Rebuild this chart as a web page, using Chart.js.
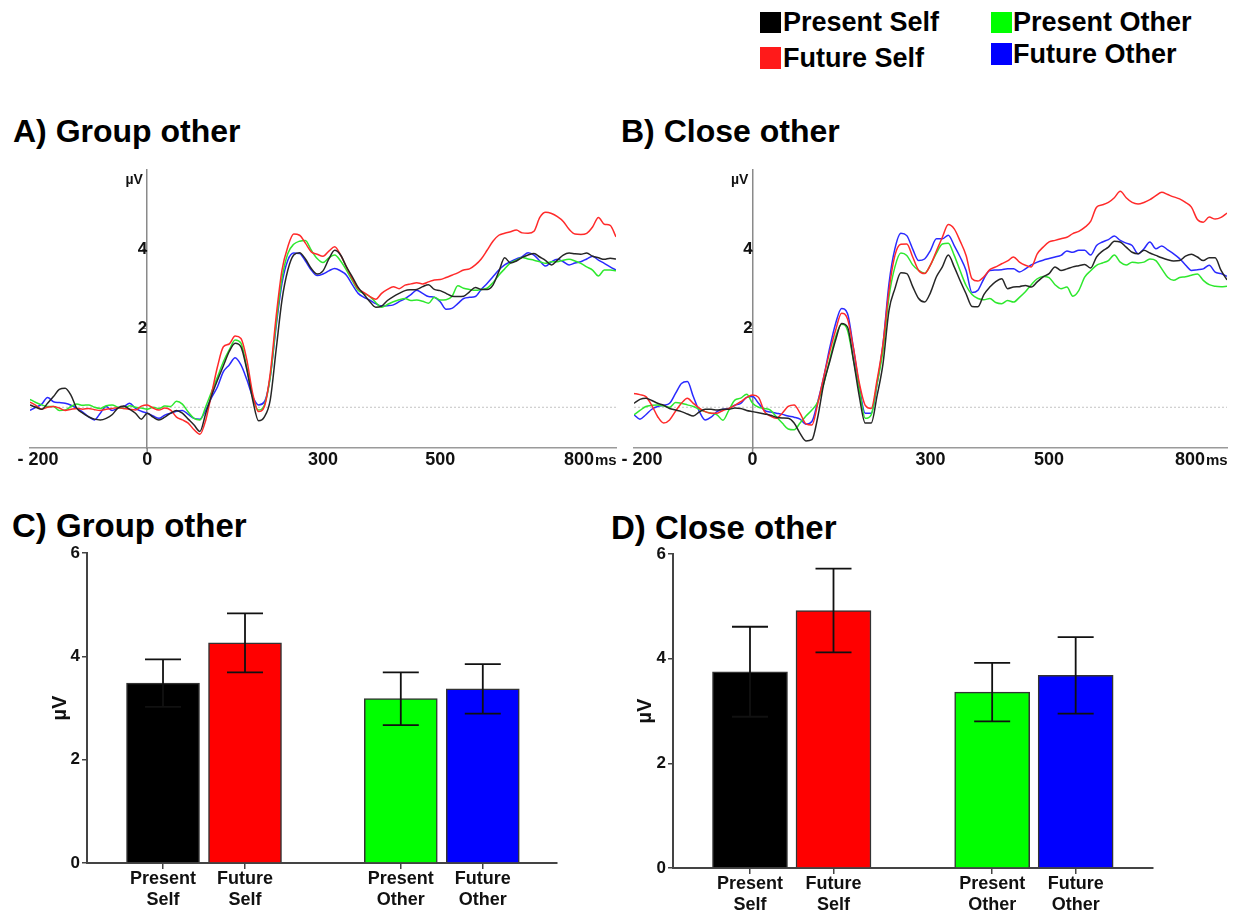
<!DOCTYPE html>
<html>
<head>
<meta charset="utf-8">
<script src="https://cdn.jsdelivr.net/npm/chart.js@4.4.1/dist/chart.umd.min.js"></script>
<style>
  html, body { margin: 0; padding: 0; background: #fff; }
  body { width: 1234px; height: 914px; position: relative; overflow: hidden;
         font-family: "Liberation Sans", Arial, sans-serif; color: #000; }
  .title { position: absolute; font-weight: bold; line-height: 1; white-space: nowrap; }
  .sw { position: absolute; width: 21px; height: 21px; }
  .lg { position: absolute; font-weight: bold; font-size: 27px; line-height: 27px; white-space: nowrap; }
  canvas { position: absolute; }
</style>
</head>
<body>

<div class="sw" style="left:760px;top:12px;background:#000;"></div>
<div class="lg" style="left:783px;top:9px;">Present Self</div>
<div class="sw" style="left:760px;top:47px;height:22px;background:#ff1a1a;"></div>
<div class="lg" style="left:783px;top:45px;">Future Self</div>
<div class="sw" style="left:991px;top:12px;background:#00ff00;"></div>
<div class="lg" style="left:1013px;top:9px;">Present Other</div>
<div class="sw" style="left:991px;top:43px;height:22px;background:#0000ff;"></div>
<div class="lg" style="left:1013px;top:41px;">Future Other</div>

<div class="title" style="left:13px;top:115px;font-size:32px;">A) Group other</div>
<div class="title" style="left:621px;top:115px;font-size:32px;">B) Close other</div>
<div class="title" style="left:12px;top:509px;font-size:33px;">C) Group other</div>
<div class="title" style="left:611px;top:511px;font-size:33px;">D) Close other</div>

<canvas id="erpA" width="640" height="330" style="left:0px;top:150px;"></canvas>
<canvas id="erpB" width="629" height="330" style="left:605px;top:150px;"></canvas>
<canvas id="barC" width="600" height="374" style="left:0px;top:540px;"></canvas>
<canvas id="barD" width="634" height="374" style="left:600px;top:540px;"></canvas>

<script>
// ---------------- DATA ----------------
const timesMs = [
  -200,-190,-180,-170,-160,-150,-140,-130,-120,-110,
  -100,-90,-80,-70,-60,-50,-40,-30,-20,-10,
  0,10,20,30,40,50,60,70,80,90,
  100,110,120,130,140,150,160,170,180,190,
  200,210,220,230,240,250,260,270,280,290,
  300,310,320,330,340,350,360,370,380,390,
  400,410,420,430,440,450,460,470,480,490,
  500,510,520,530,540,550,560,570,580,590,
  600,610,620,630,640,650,660,670,680,690,
  700,710,720,730,740,750,760,770,780,790,
  800
];

// Panel A: Group other (µV)
const groupPresentSelf = [
  0.06,0.0,-0.05,0.1,0.27,0.45,0.48,0.3,-0.03,-0.15,
  -0.24,-0.3,-0.32,-0.28,-0.19,-0.02,0.03,-0.05,-0.15,-0.3,
  -0.15,-0.25,-0.32,-0.25,-0.15,-0.08,-0.15,-0.3,-0.45,-0.61,
  -0.15,0.3,0.69,1.05,1.41,1.62,1.53,0.95,0.19,-0.34,
  -0.24,0.19,1.45,2.71,3.47,3.85,3.91,3.75,3.51,3.37,
  3.45,3.75,3.97,3.85,3.55,3.3,3.03,2.85,2.67,2.53,
  2.56,2.7,2.8,2.88,2.95,2.97,2.98,3.05,3.1,2.98,
  2.95,2.88,2.81,2.8,2.81,2.92,3.03,2.98,2.98,3.09,
  3.43,3.78,3.65,3.7,3.79,3.85,3.89,3.8,3.71,3.6,
  3.72,3.85,3.9,3.88,3.87,3.9,3.82,3.78,3.74,3.77,
  3.75
];
const groupFutureSelf = [
  0.13,0.05,-0.05,0.0,0.02,-0.02,-0.08,-0.05,-0.03,-0.05,
  -0.03,-0.06,-0.08,-0.05,-0.03,-0.01,-0.03,-0.05,-0.07,0.03,
  0.06,-0.02,-0.07,-0.02,-0.07,-0.25,-0.32,-0.4,-0.57,-0.68,
  -0.32,0.35,1.03,1.53,1.6,1.8,1.74,1.2,0.35,-0.11,
  0.02,0.86,2.29,3.47,4.06,4.38,4.35,4.15,3.93,3.87,
  3.82,3.95,4.06,3.85,3.55,3.25,3.0,2.9,2.8,2.73,
  2.88,2.98,3.05,3.0,3.09,3.12,3.15,3.12,3.17,3.22,
  3.23,3.28,3.34,3.4,3.47,3.5,3.6,3.75,3.97,4.2,
  4.35,4.4,4.44,4.48,4.41,4.4,4.45,4.8,4.93,4.9,
  4.82,4.7,4.5,4.38,4.37,4.4,4.56,4.8,4.63,4.6,
  4.31
];
const groupPresentOther = [
  0.2,0.12,0.06,0.02,0.02,-0.08,-0.07,0.02,0.08,0.05,
  0.06,0.0,-0.03,0.04,0.06,0.0,-0.03,0.04,0.0,-0.02,
  -0.05,0.0,-0.03,0.03,0.02,0.15,0.08,-0.12,-0.28,-0.32,
  0.02,0.4,0.77,1.15,1.45,1.7,1.62,1.0,0.27,-0.07,
  0.06,0.77,2.12,3.26,3.89,4.12,4.2,4.22,3.97,3.76,
  3.66,3.78,3.85,3.7,3.47,3.2,2.96,2.88,2.8,2.65,
  2.53,2.6,2.67,2.72,2.75,2.7,2.71,2.68,2.63,2.78,
  2.71,2.72,2.8,3.07,3.01,2.98,2.96,2.98,3.01,3.15,
  3.34,3.5,3.65,3.72,3.79,3.75,3.72,3.68,3.64,3.68,
  3.68,3.72,3.74,3.7,3.64,3.55,3.47,3.32,3.47,3.47,
  3.45
];
const groupFutureOther = [
  -0.08,0.0,0.08,0.25,0.14,0.12,0.1,0.05,-0.03,-0.12,
  -0.24,-0.32,-0.15,0.02,-0.08,-0.02,0.02,0.1,-0.03,-0.1,
  -0.15,-0.22,-0.28,-0.2,-0.15,-0.1,-0.08,-0.18,-0.28,-0.3,
  -0.07,0.25,0.52,0.9,1.07,1.25,1.07,0.7,0.27,0.06,
  0.14,0.77,2.04,3.13,3.72,3.9,3.89,3.7,3.47,3.33,
  3.37,3.45,3.51,3.45,3.34,3.1,2.88,2.78,2.71,2.62,
  2.56,2.57,2.59,2.67,2.75,2.85,2.96,2.88,2.8,2.78,
  2.67,2.48,2.5,2.62,2.75,2.78,2.8,2.98,3.13,3.3,
  3.47,3.6,3.68,3.75,3.81,3.91,3.85,3.7,3.57,3.68,
  3.74,3.68,3.6,3.65,3.68,3.75,3.82,3.72,3.64,3.55,
  3.47
];

// Panel B: Close other (µV)
const closePresentSelf = [
  0.1,0.2,0.23,0.17,0.1,0.05,-0.03,-0.07,-0.11,-0.17,
  -0.22,-0.12,-0.05,-0.05,-0.07,-0.05,-0.05,-0.02,-0.03,-0.08,
  -0.11,-0.14,-0.17,-0.2,-0.25,-0.27,-0.28,-0.4,-0.66,-0.85,
  -0.82,-0.24,0.6,1.15,1.7,2.12,2.03,1.2,0.27,-0.4,
  -0.4,0.3,1.11,2.45,3.0,3.4,3.38,3.05,2.75,2.66,
  2.9,3.3,3.55,3.85,3.55,3.2,2.87,2.55,2.54,2.85,
  3.04,3.18,3.25,3.0,3.04,3.05,3.08,3.04,3.17,3.3,
  3.38,3.55,3.46,3.5,3.55,3.58,3.61,3.52,3.8,3.95,
  4.05,4.2,4.18,4.05,3.92,3.88,3.97,3.9,3.84,3.78,
  3.73,3.7,3.71,3.82,3.87,3.8,3.71,3.78,3.78,3.46,
  3.22
];
const closeFutureSelf = [
  0.35,0.32,0.27,0.05,-0.24,-0.4,-0.32,-0.1,0.1,0.23,
  0.1,-0.02,-0.11,-0.15,-0.15,-0.08,-0.03,0.05,0.14,0.25,
  0.31,0.25,-0.11,-0.22,-0.28,-0.15,0.02,0.06,-0.15,-0.42,
  -0.45,0.1,0.77,1.4,1.95,2.38,2.24,1.5,0.61,0.05,
  -0.03,0.7,1.61,2.96,3.84,4.12,4.13,3.8,3.46,3.38,
  3.6,3.95,4.3,4.62,4.51,4.2,3.84,3.25,3.19,3.3,
  3.48,3.55,3.63,3.7,3.8,3.67,3.59,3.55,3.88,4.05,
  4.18,4.22,4.26,4.3,4.39,4.45,4.55,4.7,5.06,5.12,
  5.18,5.3,5.46,5.3,5.18,5.14,5.18,5.25,5.35,5.44,
  5.38,5.32,5.27,5.18,5.06,4.75,4.68,4.81,4.76,4.8,
  4.91
];
const closePresentOther = [
  -0.19,-0.08,0.02,0.05,0.06,0.03,0.0,0.12,0.1,0.06,
  0.02,-0.05,-0.11,-0.15,-0.19,-0.33,-0.07,0.18,0.23,0.33,
  0.1,0.0,-0.03,-0.07,-0.24,-0.4,-0.55,-0.57,-0.4,-0.22,
  -0.07,0.14,0.6,1.2,1.78,2.1,1.95,1.2,0.44,-0.28,
  -0.19,0.6,1.45,2.79,3.55,3.9,3.84,3.6,3.46,3.39,
  3.6,3.9,4.13,4.15,3.84,3.45,3.08,2.85,2.75,2.72,
  2.75,2.65,2.62,2.7,2.66,2.78,2.92,3.1,3.25,3.31,
  3.28,3.1,3.0,3.04,2.81,2.95,3.29,3.45,3.59,3.65,
  3.71,3.85,3.67,3.6,3.67,3.65,3.67,3.75,3.71,3.5,
  3.29,3.21,3.28,3.3,3.34,3.37,3.21,3.1,3.06,3.05,
  3.06
];
const closeFutureOther = [
  -0.19,-0.3,-0.19,-0.05,0.02,0.05,0.1,0.35,0.6,0.65,
  0.27,-0.1,-0.32,-0.25,-0.11,-0.05,-0.03,0.05,0.1,0.25,
  0.27,0.1,-0.08,-0.12,-0.15,-0.18,-0.22,-0.25,-0.3,-0.43,
  -0.36,0.15,0.77,1.5,2.12,2.5,2.37,1.5,0.52,-0.15,
  -0.15,0.6,1.61,3.13,4.01,4.4,4.34,4.0,3.71,3.75,
  3.97,4.26,4.26,4.35,4.09,3.8,3.46,2.9,2.96,3.25,
  3.46,3.47,3.48,3.5,3.5,3.42,3.5,3.6,3.67,3.72,
  3.76,3.8,3.84,3.95,3.92,3.97,3.97,3.85,4.09,4.18,
  4.24,4.33,4.22,4.15,4.09,3.88,4.01,4.18,4.01,4.08,
  3.98,3.88,3.76,3.6,3.46,3.48,3.5,3.59,3.42,3.38,
  3.31
];

const erpXTickValues = [-200, 0, 300, 500, 800];
const erpXTickLabels = ['- 200', '0', '300', '500', '800'];
const erpYTickValues = [2, 4];

// Bar panels
const conditionNames = ['Present Self', 'Future Self', 'Present Other', 'Future Other'];
const barTickLabels = [['Present', 'Self'], ['Future', 'Self'], ['Present', 'Other'], ['Future', 'Other']];
const groupMeans = [3.48, 4.26, 3.18, 3.37];
const groupErrors = [0.46, 0.57, 0.51, 0.48];
const closeMeans = [3.75, 4.92, 3.36, 3.68];
const closeErrors = [0.86, 0.80, 0.56, 0.73];
const barYTickValues = [0, 2, 4, 6];

// ---------------- STYLE / LAYOUT ----------------
const FONT = '"Liberation Sans", Arial, sans-serif';
Chart.defaults.font.family = FONT;
Chart.defaults.color = '#111';
const lineColors = ['#262626', '#ff2a2a', '#2ee82e', '#2a2aff'];
const barColors = ['#000000', '#ff0000', '#00ff00', '#0000ff'];
const barSlots = [1, 2, 3.9, 4.9];

const erpDecor = {
  id: 'erpDecor',
  beforeDatasetsDraw(chart) {
    const {ctx, chartArea: a, scales: {y}} = chart;
    const y0 = y.getPixelForValue(0);
    ctx.save();
    ctx.strokeStyle = '#c4c4c4';
    ctx.lineWidth = 1;
    ctx.setLineDash([2, 2]);
    ctx.beginPath();
    ctx.moveTo(a.left, y0);
    ctx.lineTo(a.right, y0);
    ctx.stroke();
    ctx.restore();
  },
  afterDraw(chart) {
    const {ctx, chartArea: a, scales: {x}} = chart;
    ctx.save();
    ctx.fillStyle = '#111';
    ctx.textBaseline = 'alphabetic';
    const base = a.bottom + 17;
    const n = erpXTickValues.length;
    erpXTickValues.forEach((v, i) => {
      const px = x.getPixelForValue(v);
      ctx.font = 'bold 18px ' + FONT;
      if (i === n - 1) {
        ctx.textAlign = 'right';
        ctx.fillText(erpXTickLabels[i], px - 22, base);
        ctx.font = 'bold 15px ' + FONT;
        ctx.textAlign = 'left';
        ctx.fillText('ms', px - 21, base);
      } else if (i === 0) {
        ctx.textAlign = 'center';
        ctx.fillText(erpXTickLabels[i], px + 8, base);
      } else {
        ctx.textAlign = 'center';
        ctx.fillText(erpXTickLabels[i], px, base);
      }
    });
    const x0 = x.getPixelForValue(0);
    ctx.strokeStyle = '#8a8a8a';
    ctx.lineWidth = 1.5;
    ctx.beginPath();
    ctx.moveTo(x0, a.bottom);
    ctx.lineTo(x0, a.bottom + 4);
    ctx.stroke();
    ctx.font = 'bold 14px ' + FONT;
    ctx.textAlign = 'center';
    ctx.textBaseline = 'middle';
    ctx.fillText('µV', x0 - 13, a.top + 10);
    ctx.restore();
  }
};

function makeErp(id, series, pad) {
  const names = conditionNames;
  const datasets = series.map((vals, s) => ({
    label: names[s],
    data: timesMs.map((t, i) => ({x: t, y: vals[i]})),
    borderColor: lineColors[s],
    borderWidth: 1.5,
    pointRadius: 0,
    fill: false,
    cubicInterpolationMode: 'monotone'
  }));
  return new Chart(document.getElementById(id), {
    type: 'line',
    data: {datasets},
    options: {
      responsive: false,
      animation: false,
      devicePixelRatio: 1,
      layout: {padding: pad},
      plugins: {legend: {display: false}, tooltip: {enabled: false}},
      scales: {
        x: {
          type: 'linear', min: -200, max: 800,
          ticks: {display: false},
          grid: {display: false, drawTicks: false},
          border: {display: true, color: '#9a9a9a', width: 1.5}
        },
        y: {
          type: 'linear', min: -1.03, max: 6,
          position: {x: 0},
          afterBuildTicks: (s) => { s.ticks = erpYTickValues.map(v => ({value: v})); },
          ticks: {font: {size: 17, weight: 'bold'}, color: '#111', padding: 1},
          grid: {display: true, drawOnChartArea: false, drawTicks: true, tickLength: 4, color: '#777', lineWidth: 1},
          border: {display: true, color: '#8a8a8a', width: 1.5}
        }
      }
    },
    plugins: [erpDecor]
  });
}

const errorBars = {
  id: 'errorBars',
  afterDatasetsDraw(chart, args, opts) {
    const {ctx, scales: {y}} = chart;
    const meta = chart.getDatasetMeta(0);
    const ds = chart.data.datasets[0];
    ctx.save();
    ctx.strokeStyle = '#111';
    ctx.lineWidth = 1.8;
    meta.data.forEach((bar, i) => {
      const m = ds.data[i].y, e = opts.errors[i];
      const yt = y.getPixelForValue(m + e), yb = y.getPixelForValue(m - e);
      const hw = opts.cap / 2;
      ctx.beginPath();
      ctx.moveTo(bar.x, yt); ctx.lineTo(bar.x, yb);
      ctx.moveTo(bar.x - hw, yt); ctx.lineTo(bar.x + hw, yt);
      ctx.moveTo(bar.x - hw, yb); ctx.lineTo(bar.x + hw, yb);
      ctx.stroke();
    });
    ctx.restore();
  }
};

function makeBar(id, means, errors, cfg) {
  return new Chart(document.getElementById(id), {
    type: 'bar',
    data: {
      datasets: [{
        label: 'mean amplitude',
        data: means.map((m, i) => ({x: barSlots[i], y: m})),
        backgroundColor: barColors,
        borderColor: '#333',
        borderWidth: 1.5,
        barThickness: cfg.thickness
      }]
    },
    options: {
      responsive: false,
      animation: false,
      devicePixelRatio: 1,
      layout: {padding: cfg.pad},
      plugins: {legend: {display: false}, tooltip: {enabled: false},
                errorBars: {errors, cap: 36}},
      scales: {
        x: {
          type: 'linear', min: cfg.xmin, max: cfg.xmax, offset: false,
          afterBuildTicks: (s) => { s.ticks = barSlots.map(v => ({value: v})); },
          afterFit: (s) => { s.height = cfg.xh; },
          ticks: {callback: (v, i) => barTickLabels[i], font: {size: 18, weight: 'bold', lineHeight: 1.15},
                  color: '#111', padding: 0, maxRotation: 0, autoSkip: false},
          grid: {offset: false, drawOnChartArea: false, drawTicks: true, tickLength: 6, color: '#444', lineWidth: 1.5},
          border: {color: '#444', width: 2}
        },
        y: {
          min: 0, max: 6,
          afterBuildTicks: (s) => { s.ticks = barYTickValues.map(v => ({value: v})); },
          afterFit: (s) => { s.width = cfg.yw; },
          ticks: {font: {size: 17, weight: 'bold'}, color: '#111', padding: 2},
          grid: {drawOnChartArea: false, drawTicks: true, tickLength: 5, color: '#444', lineWidth: 1.5},
          border: {color: '#444', width: 2},
          title: {display: true, text: 'µV', font: {size: 20, weight: 'bold'}, color: '#111',
                  padding: {top: cfg.titlePad, bottom: 0}}
        }
      }
    },
    plugins: [errorBars]
  });
}

makeErp('erpA', [groupPresentSelf, groupFutureSelf, groupPresentOther, groupFutureOther],
        {left: 30, right: 24, top: 20, bottom: 32});
makeErp('erpB', [closePresentSelf, closeFutureSelf, closePresentOther, closeFutureOther],
        {left: 29, right: 7, top: 20, bottom: 32});
makeBar('barC', groupMeans, groupErrors,
        {pad: {left: 0, right: 43, top: 13, bottom: 0}, yw: 87, xh: 51, xmin: 0.073, xmax: 5.805, thickness: 73, titlePad: 48});
makeBar('barD', closeMeans, closeErrors,
        {pad: {left: 0, right: 81, top: 14, bottom: 0}, yw: 73, xh: 46, xmin: 0.078, xmax: 5.826, thickness: 75, titlePad: 33});
</script>
</body>
</html>
